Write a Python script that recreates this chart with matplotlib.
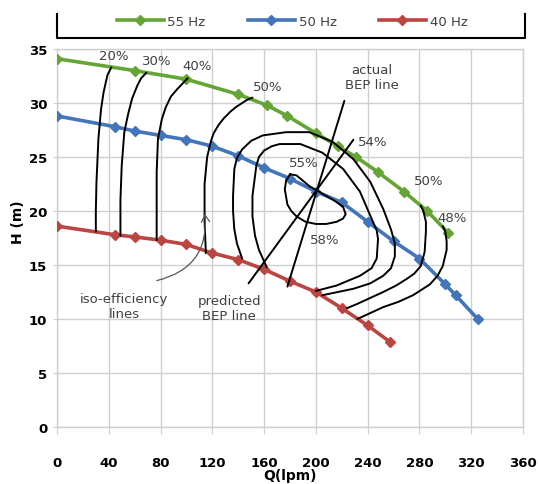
import matplotlib
matplotlib.use("Agg")

import matplotlib.pyplot as plt
from matplotlib.lines import Line2D
from matplotlib.patches import FancyArrowPatch

# ---- pump curves ----
Q_55 = [0, 60, 100, 140, 162, 178, 200, 217, 231, 248, 268, 286, 302]
H_55 = [34.1, 33.0, 32.2, 30.8, 29.8, 28.8, 27.2, 26.0, 25.0, 23.6, 21.8, 20.0, 18.0]

Q_50 = [0, 45, 60, 80, 100, 120, 140, 160, 180, 200, 220, 240, 260, 280, 300, 308, 325]
H_50 = [28.8, 27.8, 27.4, 27.0, 26.6, 26.0, 25.1, 24.0, 23.0, 21.8, 20.8, 19.0, 17.2, 15.6, 13.2, 12.2, 10.0]

Q_40 = [0, 45, 60, 80, 100, 120, 140, 160, 180, 200, 220, 240, 257]
H_40 = [18.6, 17.8, 17.6, 17.3, 16.9, 16.1, 15.5, 14.6, 13.5, 12.5, 11.0, 9.4, 7.9]

# ---- hand drawn iso-efficiency lines ----
ISO_20_Q = [42, 39, 36, 34, 32, 30.5, 30, 30]
ISO_20_H = [33.3, 32.6, 31.0, 29.4, 26.7, 22.7, 20.0, 18.1]
ISO_30_Q = [69, 65, 62, 58, 55, 52, 50, 49, 49]
ISO_30_H = [32.8, 32.3, 31.6, 30.4, 29.0, 27.3, 24.2, 21.0, 17.7]
ISO_40_Q = [101, 97, 93, 88, 84, 81, 78, 77, 77]
ISO_40_H = [32.3, 31.8, 31.3, 30.6, 29.6, 28.5, 26.7, 23.6, 17.3]
ISO_50L_Q = [151, 147, 143, 138, 134, 129, 125, 121, 119, 116, 114, 114, 115]
ISO_50L_H = [30.5, 30.3, 30.0, 29.6, 29.2, 28.6, 28.0, 27.2, 26.5, 25.0, 22.5, 19.0, 16.1]
ISO_54_Q = [143, 139, 137, 136, 136, 137, 139, 143, 150, 159, 177, 195, 213, 229, 242,
            252, 258, 261, 261, 258, 252, 242, 229, 205]
ISO_54_H = [15.6, 17.0, 18.3, 20.0, 21.4, 23.9, 24.9, 25.7, 26.5, 27.0, 27.3, 27.3, 26.4,
            24.8, 22.7, 20.2, 18.3, 17.0, 15.8, 14.7, 14.0, 13.3, 12.8, 12.2]
ISO_55_Q = [162, 156, 153, 151, 151, 154, 156, 160, 166, 172, 188, 205, 221, 234, 243,
            247, 248, 247, 243, 234, 216, 200]
ISO_55_H = [14.8, 16.4, 17.7, 19.5, 21.4, 24.2, 25.0, 25.6, 26.0, 26.2, 26.2, 25.4, 23.9,
            21.8, 19.3, 18.2, 17.4, 15.6, 14.7, 14.0, 13.1, 12.6]
ISO_58_Q = [180, 177, 176, 178, 181, 185, 192, 200, 208, 216, 221, 223, 221, 215, 208,
            195, 185, 180]
ISO_58_H = [23.4, 22.8, 22.0, 20.6, 20.0, 19.5, 19.0, 18.8, 18.8, 19.0, 19.3, 19.7, 20.4,
            20.9, 21.4, 22.3, 23.3, 23.4]
ISO_50R_Q = [281, 283, 285, 285, 284, 281, 276, 270, 262, 252, 232, 224]
ISO_50R_H = [20.5, 20.0, 19.0, 18.1, 16.2, 14.9, 14.2, 13.7, 13.1, 12.5, 11.4, 11.0]
ISO_48_Q = [298, 300, 301, 301, 298, 294, 288, 275, 264, 252, 232]
ISO_48_H = [18.6, 18.1, 17.2, 16.4, 14.9, 14.0, 13.2, 12.2, 11.6, 11.1, 10.0]

BEP_ACTUAL_Q = [222, 178]
BEP_ACTUAL_H = [30.2, 13.0]
BEP_PRED_Q = [229, 148]
BEP_PRED_H = [26.6, 13.3]

# label text and where it sits (Q, H)
ISO_LABELS = ["20%", "30%", "40%", "50%", "54%", "55%", "58%", "50%", "48%"]
ISO_LABEL_Q = [44, 77, 108, 163, 244, 191, 207, 287, 305]
ISO_LABEL_H = [34.4, 33.9, 33.5, 31.5, 26.4, 24.5, 17.4, 22.8, 19.4]

X_TICKS = [0, 40, 80, 120, 160, 200, 240, 280, 320, 360]
Y_TICKS = [0, 5, 10, 15, 20, 25, 30, 35]

GREEN = "#64a536"
BLUE = "#4275b9"
RED = "#bb4541"
GRID = "#cfcfcf"
TXT = "#404040"

W, H = 538, 485


def fx(px):
    return px / W


def fy(py):
    return 1 - py / H


fig = plt.figure(figsize=(W / 100, H / 100), dpi=100)
ax = fig.add_axes([fx(57), fy(428), fx(523) - fx(57), fy(50) - fy(428)])

# SERIES
series = [(Q_55, H_55, GREEN, "55 Hz"), (Q_50, H_50, BLUE, "50 Hz"), (Q_40, H_40, RED, "40 Hz")]
handles = []
for q, h, c, name in series:
    ln, = ax.plot(q, h, color=c, lw=2.6, marker="D", ms=5, mec=c, mfc=c,
                  label=name, zorder=3)
    handles.append(ln)

# ISO LINES
iso = [(ISO_20_Q, ISO_20_H), (ISO_30_Q, ISO_30_H), (ISO_40_Q, ISO_40_H),
       (ISO_50L_Q, ISO_50L_H), (ISO_54_Q, ISO_54_H), (ISO_55_Q, ISO_55_H),
       (ISO_58_Q, ISO_58_H), (ISO_50R_Q, ISO_50R_H), (ISO_48_Q, ISO_48_H),
       (BEP_ACTUAL_Q, BEP_ACTUAL_H), (BEP_PRED_Q, BEP_PRED_H)]
for q, h in iso:
    ax.plot(q, h, color="black", lw=1.4, solid_joinstyle="round",
            solid_capstyle="round", zorder=4)

for t, q, h in zip(ISO_LABELS, ISO_LABEL_Q, ISO_LABEL_H):
    ax.text(q, h, t, ha="center", va="center", fontsize=9.5, color=TXT, zorder=5)

ax.text(243, 32.4, "actual\nBEP line", ha="center", va="center", fontsize=9.5,
        color=TXT, linespacing=1.2, zorder=5)
ax.text(133, 11.0, "predicted\nBEP line", ha="center", va="center", fontsize=9.5,
        color=TXT, linespacing=1.2, zorder=5)
ax.text(52, 11.2, "iso-efficiency\nlines", ha="center", va="center", fontsize=9.5,
        color=TXT, linespacing=1.2, zorder=5)

ax.add_patch(FancyArrowPatch((75, 13.5), (114, 20.0), connectionstyle="arc3,rad=0.45",
                             arrowstyle="->,head_length=5,head_width=3",
                             color="#555555", lw=0.9, zorder=5))

# AXES
ax.set_xlim(0, 360)
ax.set_ylim(0, 35)
ax.set_xticks(X_TICKS)
ax.set_yticks(Y_TICKS)
ax.grid(True, color=GRID, lw=1.0, zorder=0)
ax.set_axisbelow(True)
for s in ax.spines.values():
    s.set_color(GRID)
    s.set_linewidth(1.0)
ax.tick_params(axis="x", direction="out", length=5, color=GRID, pad=16,
               labelsize=9.5)
ax.tick_params(axis="y", direction="out", length=3, color=GRID, pad=4,
               labelsize=9.5)
for lab in ax.get_xticklabels() + ax.get_yticklabels():
    lab.set_fontweight("bold")

ax.set_xlabel("Q(lpm)", fontsize=10, fontweight="bold", labelpad=-1)
ax.set_ylabel("H (m)", fontsize=10, fontweight="bold")
ax.yaxis.set_label_coords(-(57 - 25) / (523 - 57), (428 - 222) / (428 - 50))

# LEGEND box: top edge sits outside the picture, only three sides show
box_x = [fx(57), fx(57), fx(525), fx(525)]
box_y = [fy(15), fy(39), fy(39), fy(15)]
fig.lines.append(Line2D(box_x, box_y, transform=fig.transFigure, color="black", lw=1.5))
fig.legend(handles=handles, loc="center", bbox_to_anchor=(fx(292), fy(22)),
           ncol=3, frameon=False, fontsize=9.5, handlelength=3.6,
           handletextpad=0.25, columnspacing=3.2, labelcolor=TXT)

fig.savefig("out.png", dpi=100)
